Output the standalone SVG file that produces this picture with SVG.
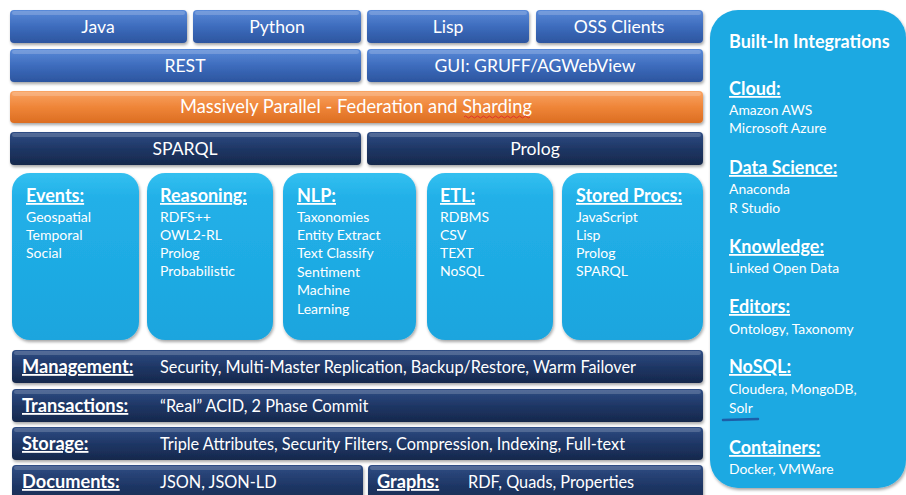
<svg xmlns="http://www.w3.org/2000/svg" width="906" height="495" viewBox="0 0 906 495">
<defs>
<linearGradient id="gBlue" x1="0" y1="0" x2="0" y2="1">
<stop offset="0" stop-color="#5a8ad8"/><stop offset="0.5" stop-color="#3d6cbd"/><stop offset="1" stop-color="#2c559f"/>
</linearGradient>
<linearGradient id="gOrange" x1="0" y1="0" x2="0" y2="1">
<stop offset="0" stop-color="#f9a465"/><stop offset="0.5" stop-color="#ef8538"/><stop offset="1" stop-color="#dc6d22"/>
</linearGradient>
<linearGradient id="gNavy" x1="0" y1="0" x2="0" y2="1">
<stop offset="0" stop-color="#2f4d84"/><stop offset="0.5" stop-color="#1f3766"/><stop offset="1" stop-color="#16284c"/>
</linearGradient>
<linearGradient id="gCyan" x1="0" y1="0" x2="0" y2="1">
<stop offset="0" stop-color="#33c0f0"/><stop offset="0.15" stop-color="#22b0e8"/><stop offset="1" stop-color="#1ba5de"/>
</linearGradient>
<filter id="sh" x="-5%" y="-10%" width="110%" height="130%">
<feDropShadow dx="1" dy="2" stdDeviation="1.5" flood-color="#000" flood-opacity="0.35"/>
</filter>
<style>
text{font-family:Lato,"Open Sans","Liberation Sans",sans-serif;fill:#fff}
.btn{font-size:17.6px;text-anchor:middle}
.blue{fill:url(#gBlue);filter:url(#sh)}
.orange{fill:url(#gOrange);filter:url(#sh)}
.navy{fill:url(#gNavy);filter:url(#sh)}
.cyan{fill:url(#gCyan);filter:url(#sh)}
.hl{fill:#fff;opacity:0.18}
.hd{font-size:18px;font-weight:bold;text-decoration:underline}
.it{font-size:14px}
.lbl{font-size:18.2px;font-weight:bold;text-decoration:underline}
.desc{font-size:16.3px}
.rit{font-size:13.9px}
</style>
</defs>

<g id="java"><rect class="blue" x="10" y="10" width="177" height="33" rx="4"/><rect class="hl" x="12" y="11" width="173" height="4" rx="2"/><text class="btn" x="98" y="33">Java</text></g>
<g id="python"><rect class="blue" x="193" y="10" width="168" height="33" rx="4"/><rect class="hl" x="195" y="11" width="164" height="4" rx="2"/><text class="btn" x="277" y="33">Python</text></g>
<g id="lisp"><rect class="blue" x="367" y="10" width="162" height="33" rx="4"/><rect class="hl" x="369" y="11" width="158" height="4" rx="2"/><text class="btn" x="448" y="33">Lisp</text></g>
<g id="oss"><rect class="blue" x="536" y="10" width="167" height="33" rx="4"/><rect class="hl" x="538" y="11" width="163" height="4" rx="2"/><text class="btn" x="619" y="33">OSS Clients</text></g>

<g id="rest"><rect class="blue" x="10" y="49" width="351" height="33" rx="4"/><rect class="hl" x="12" y="50" width="347" height="4" rx="2"/><text class="btn" x="185" y="72">REST</text></g>
<g id="gui"><rect class="blue" x="367" y="49" width="336" height="33" rx="4"/><rect class="hl" x="369" y="50" width="332" height="4" rx="2"/><text class="btn" x="535" y="72">GUI: GRUFF/AGWebView</text></g>

<g id="parallel"><rect class="orange" x="10" y="91" width="693" height="32" rx="4"/><rect class="hl" x="12" y="92" width="689" height="4" rx="2"/><text class="btn" x="356" y="113" style="font-size:18.3px">Massively Parallel - Federation and Sharding</text>
<path d="M464 117 q1.5 -2 3 0 t3 0 t3 0 t3 0 t3 0 t3 0 t3 0 t3 0 t3 0 t3 0 t3 0 t3 0 t3 0 t3 0 t3 0 t3 0 t3 0 t3 0 t3 0 t3 0 t3 0 t3 0" fill="none" stroke="#e0322a" stroke-width="1"/></g>

<g id="sparql"><rect class="navy" x="10" y="132" width="351" height="33" rx="4"/><rect class="hl" x="12" y="133" width="347" height="4" rx="2"/><text class="btn" x="185" y="155">SPARQL</text></g>
<g id="prolog"><rect class="navy" x="367" y="132" width="336" height="33" rx="4"/><rect class="hl" x="369" y="133" width="332" height="4" rx="2"/><text class="btn" x="535" y="155">Prolog</text></g>

<g id="events"><rect class="cyan" x="12" y="173" width="127" height="167" rx="18"/>
<text class="hd" x="26" y="202">Events:</text>
<text class="it" x="26" y="222">Geospatial</text><text class="it" x="26" y="240">Temporal</text><text class="it" x="26" y="258">Social</text></g>

<g id="reasoning"><rect class="cyan" x="147" y="173" width="126" height="167" rx="18"/>
<text class="hd" x="160" y="202">Reasoning:</text>
<text class="it" x="160" y="222">RDFS++</text><text class="it" x="160" y="240">OWL2-RL</text><text class="it" x="160" y="258">Prolog</text><text class="it" x="160" y="276">Probabilistic</text></g>

<g id="nlp"><rect class="cyan" x="283" y="173" width="133" height="167" rx="18"/>
<text class="hd" x="297" y="202">NLP:</text>
<text class="it" x="297" y="222">Taxonomies</text><text class="it" x="297" y="240">Entity Extract</text><text class="it" x="297" y="258">Text Classify</text><text class="it" x="297" y="277">Sentiment</text><text class="it" x="297" y="295">Machine</text><text class="it" x="297" y="314">Learning</text></g>

<g id="etl"><rect class="cyan" x="427" y="173" width="126" height="167" rx="18"/>
<text class="hd" x="440" y="202">ETL:</text>
<text class="it" x="440" y="222">RDBMS</text><text class="it" x="440" y="240">CSV</text><text class="it" x="440" y="258">TEXT</text><text class="it" x="440" y="276">NoSQL</text></g>

<g id="storedprocs"><rect class="cyan" x="562" y="173" width="141" height="167" rx="18"/>
<text class="hd" x="576" y="202">Stored Procs:</text>
<text class="it" x="576" y="222">JavaScript</text><text class="it" x="576" y="240">Lisp</text><text class="it" x="576" y="258">Prolog</text><text class="it" x="576" y="276">SPARQL</text></g>

<g id="management"><rect class="navy" x="12" y="350" width="691" height="33" rx="4"/><rect class="hl" x="14" y="351" width="687" height="4" rx="2"/>
<text class="lbl" x="22" y="373">Management:</text><text class="desc" x="160" y="373">Security, Multi-Master Replication, Backup/Restore, Warm Failover</text></g>
<g id="transactions"><rect class="navy" x="12" y="389" width="691" height="33" rx="4"/><rect class="hl" x="14" y="390" width="687" height="4" rx="2"/>
<text class="lbl" x="22" y="412">Transactions:</text><text class="desc" x="160" y="412">“Real” ACID, 2 Phase Commit</text></g>
<g id="storage"><rect class="navy" x="12" y="427" width="691" height="33" rx="4"/><rect class="hl" x="14" y="428" width="687" height="4" rx="2"/>
<text class="lbl" x="22" y="450">Storage:</text><text class="desc" x="160" y="450">Triple Attributes, Security Filters, Compression, Indexing, Full-text</text></g>
<g id="documents"><rect class="navy" x="12" y="465" width="351" height="40" rx="4"/><rect class="hl" x="14" y="466" width="347" height="4" rx="2"/>
<text class="lbl" x="22" y="488">Documents:</text><text class="desc" x="160" y="488">JSON, JSON-LD</text></g>
<g id="graphs"><rect class="navy" x="368" y="465" width="335" height="40" rx="4"/><rect class="hl" x="370" y="466" width="331" height="4" rx="2"/>
<text class="lbl" x="377" y="488">Graphs:</text><text class="desc" x="468" y="488">RDF, Quads, Properties</text></g>

<g id="integrations"><rect x="710" y="10" width="196" height="478" rx="28" fill="#1ea9e2" filter="url(#sh)"/>
<text x="729" y="48" style="font-size:18px;font-weight:bold">Built-In Integrations</text>
<text class="hd" x="729" y="95">Cloud:</text>
<text class="rit" x="729" y="115">Amazon AWS</text><text class="rit" x="729" y="133">Microsoft Azure</text>
<text class="hd" x="729" y="174">Data Science:</text>
<text class="rit" x="729" y="194">Anaconda</text><text class="rit" x="729" y="213">R Studio</text>
<text class="hd" x="729" y="253">Knowledge:</text>
<text class="rit" x="729" y="273">Linked Open Data</text>
<text class="hd" x="729" y="313">Editors:</text>
<text class="rit" x="729" y="334">Ontology, Taxonomy</text>
<text class="hd" x="729" y="373">NoSQL:</text>
<text class="rit" x="729" y="394">Cloudera, MongoDB,</text><text class="rit" x="729" y="413">Solr</text>
<path d="M723 420 L758 419" stroke="#1c5fa8" stroke-width="2.5" stroke-linecap="round" fill="none"/>
<text class="hd" x="729" y="454">Containers:</text>
<text class="rit" x="729" y="474">Docker, VMWare</text></g>
</svg>
